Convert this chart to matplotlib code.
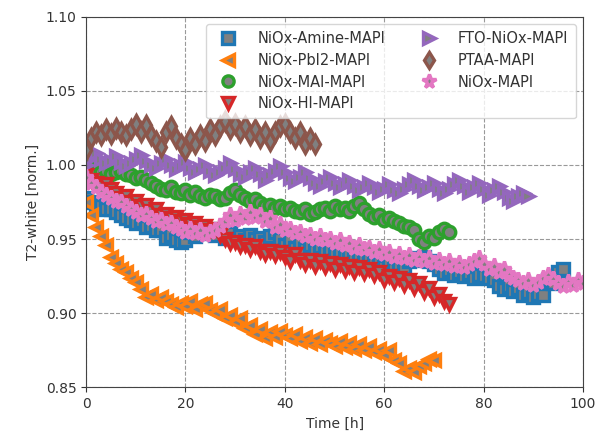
#!/usr/bin/env python3
"""
Normalised T2-white over time for the MAPI stacks.
"""

import matplotlib
matplotlib.use("Agg")
import matplotlib.pyplot as plt
import numpy as np


amine = [
    0.978, 0.975, 0.973, 0.972, 0.970, 0.970, 0.968, 0.966, 0.964, 0.963,
    0.961, 0.962, 0.958, 0.959, 0.956, 0.956, 0.951, 0.953, 0.949, 0.948,
    0.949, 0.955, 0.952, 0.956, 0.954, 0.957, 0.953, 0.956, 0.951, 0.954,
    0.950, 0.952, 0.949, 0.953, 0.950, 0.951, 0.948, 0.952, 0.955, 0.950,
    0.946, 0.949, 0.944, 0.947, 0.943, 0.946, 0.942, 0.945, 0.941, 0.943,
    0.940, 0.942, 0.939, 0.941, 0.937, 0.940, 0.936, 0.938, 0.935, 0.934,
    0.931, 0.934, 0.930, 0.933, 0.931, 0.935, 0.937, 0.936, 0.938, 0.935,
    0.933, 0.930, 0.927, 0.929, 0.926, 0.928, 0.925, 0.927, 0.924, 0.926,
    0.925, 0.924, 0.922, 0.918, 0.916, 0.918, 0.915, 0.917, 0.912, 0.914,
    0.911, 0.913, 0.912, 0.922, 0.920, 0.928, 0.930,
]
pbi2 = [
    0.975, 0.966, 0.958, 0.952, 0.946, 0.938, 0.934, 0.930, 0.928, 0.924,
    0.921, 0.916, 0.911, 0.913, 0.909, 0.911, 0.908, 0.906, 0.904, 0.907,
    0.905, 0.908, 0.903, 0.906, 0.907, 0.902, 0.900, 0.903, 0.897, 0.899,
    0.894, 0.897, 0.890, 0.892, 0.886, 0.889, 0.883, 0.887, 0.884, 0.888,
    0.885, 0.883, 0.886, 0.881, 0.884, 0.880, 0.883, 0.879, 0.882, 0.880,
    0.878, 0.881, 0.877, 0.880, 0.876, 0.879, 0.875, 0.878, 0.874, 0.876,
    0.872, 0.875, 0.868, 0.866, 0.861, 0.863, 0.860, 0.864, 0.866, 0.869,
    0.868,
]
mai = [
    0.998, 0.997, 0.996, 0.995, 0.996, 0.994, 0.995, 0.996, 0.994, 0.993,
    0.991, 0.992, 0.990, 0.988, 0.986, 0.984, 0.983, 0.985, 0.982, 0.981,
    0.983, 0.980, 0.982, 0.979, 0.978, 0.980, 0.979, 0.977, 0.978, 0.981,
    0.983, 0.980, 0.978, 0.976, 0.977, 0.974, 0.972, 0.973, 0.971, 0.972,
    0.970, 0.971, 0.969, 0.968, 0.970, 0.967, 0.968, 0.970, 0.971, 0.969,
    0.972, 0.970, 0.971, 0.969, 0.972, 0.974, 0.970, 0.967, 0.965, 0.966,
    0.963, 0.964, 0.962, 0.961, 0.959, 0.958, 0.956, 0.950, 0.948, 0.952,
    0.951, 0.955, 0.957, 0.955,
]
hi = [
    0.993, 0.990, 0.988, 0.986, 0.987, 0.984, 0.981, 0.978, 0.979, 0.975,
    0.976, 0.972, 0.973, 0.969, 0.970, 0.966, 0.967, 0.964, 0.965, 0.962,
    0.963, 0.960, 0.961, 0.958, 0.959, 0.956, 0.957, 0.953, 0.950, 0.947,
    0.948, 0.945, 0.946, 0.943, 0.945, 0.942, 0.940, 0.942, 0.939, 0.941,
    0.938, 0.935, 0.940, 0.936, 0.933, 0.936, 0.932, 0.935, 0.931, 0.934,
    0.930, 0.933, 0.929, 0.932, 0.928, 0.931, 0.927, 0.930, 0.926, 0.928,
    0.922, 0.925, 0.921, 0.924, 0.919, 0.922, 0.917, 0.920, 0.914, 0.917,
    0.911, 0.913, 0.908, 0.906,
]
fto = [
    1.000, 1.005, 1.008, 1.004, 1.001, 1.003, 1.006, 1.002, 0.999, 1.001,
    1.004, 1.007, 1.003, 1.000, 0.998, 1.001, 1.004, 1.000, 0.997, 0.999,
    1.002, 0.998, 0.995, 0.997, 1.000, 0.996, 0.993, 0.995, 0.998, 1.001,
    0.997, 0.994, 0.992, 0.995, 0.998, 0.994, 0.990, 0.993, 0.996, 0.999,
    0.995, 0.991, 0.989, 0.992, 0.995, 0.991, 0.988, 0.986, 0.989, 0.992,
    0.988, 0.985, 0.987, 0.990, 0.986, 0.983, 0.985, 0.988, 0.985, 0.982,
    0.984, 0.987, 0.983, 0.981, 0.984, 0.987, 0.990, 0.986, 0.983, 0.985,
    0.988, 0.984, 0.981, 0.984, 0.987, 0.990, 0.986, 0.982, 0.985, 0.988,
    0.984, 0.980, 0.983, 0.986, 0.982, 0.978, 0.976, 0.979, 0.981, 0.979,
]
ptaa = [
    1.010, 1.018, 1.022, 1.020, 1.024, 1.021, 1.025, 1.022, 1.020, 1.024,
    1.028, 1.022, 1.027, 1.020, 1.016, 1.012, 1.022, 1.026, 1.018, 1.014,
    1.010, 1.018, 1.014, 1.020, 1.016, 1.024, 1.020, 1.026, 1.030, 1.024,
    1.028, 1.022, 1.026, 1.020, 1.024, 1.018, 1.022, 1.016, 1.022, 1.026,
    1.028, 1.022, 1.018, 1.022, 1.014, 1.018, 1.014,
]
niox = [
    0.992, 0.988, 0.985, 0.982, 0.980, 0.978, 0.976, 0.975, 0.972, 0.970,
    0.968, 0.966, 0.967, 0.964, 0.962, 0.963, 0.960, 0.961, 0.958, 0.957,
    0.955, 0.957, 0.954, 0.956, 0.953, 0.955, 0.956, 0.959, 0.962, 0.966,
    0.963, 0.967, 0.964, 0.968, 0.965, 0.966, 0.962, 0.964, 0.958, 0.960,
    0.956, 0.957, 0.954, 0.955, 0.952, 0.953, 0.950, 0.952, 0.949, 0.950,
    0.947, 0.949, 0.946, 0.947, 0.944, 0.946, 0.943, 0.944, 0.941, 0.943,
    0.940, 0.941, 0.938, 0.940, 0.937, 0.939, 0.936, 0.938, 0.935, 0.937,
    0.934, 0.936, 0.933, 0.935, 0.932, 0.934, 0.931, 0.933, 0.935, 0.937,
    0.933, 0.930, 0.932, 0.928, 0.930, 0.926, 0.924, 0.922, 0.920, 0.922,
    0.919, 0.921, 0.924, 0.926, 0.923, 0.920, 0.918, 0.921, 0.919, 0.922,
    0.920,
]

LABELS = [
    "NiOx-Amine-MAPI", "NiOx-PbI2-MAPI", "NiOx-MAI-MAPI", "NiOx-HI-MAPI",
    "FTO-NiOx-MAPI", "PTAA-MAPI", "NiOx-MAPI",
]
SERIES = [amine, pbi2, mai, hi, fto, ptaa, niox]
MARKERS = ["s", "<", "o", "v", ">", "d", "*"]
COLORS = ["#1f77b4", "#ff7f0e", "#2ca02c", "#d62728", "#9467bd", "#8c564b", "#e377c2"]
SAMPLE_STEP_H = 1.0
TEXT_COLOR = "#333333"


def main() -> None:
    fig = plt.figure(figsize=(5.98, 4.33), dpi=100)
    ax = fig.add_axes([0.144, 0.106, 0.831, 0.855])

    for vals, label, marker, color in zip(SERIES, LABELS, MARKERS, COLORS):
        t = np.arange(len(vals)) * SAMPLE_STEP_H
        ms = 11 if marker == "*" else 9
        ax.plot(t, vals, linestyle="none", marker=marker, markersize=ms,
                markerfacecolor="grey", markeredgecolor=color,
                markeredgewidth=2.4, label=label)

    ax.set_xlim(0, 100)
    ax.set_ylim(0.85, 1.10)
    ax.set_xticks([0, 20, 40, 60, 80, 100])
    ax.set_yticks([0.85, 0.90, 0.95, 1.00, 1.05, 1.10])
    ax.yaxis.set_major_formatter(plt.FormatStrFormatter("%.2f"))
    ax.grid(True, linestyle="--", color="#999999", linewidth=0.8)
    ax.tick_params(labelsize=10, colors=TEXT_COLOR)
    for sp in ax.spines.values():
        sp.set_color("#444444")
    ax.set_xlabel("Time [h]", fontsize=10, color=TEXT_COLOR)
    ax.set_ylabel("T2-white [norm.]", fontsize=10, color=TEXT_COLOR)
    leg = ax.legend(loc="upper right", ncol=2, fontsize=10.5, columnspacing=2.0,
                    handletextpad=1.0, labelspacing=0.45, borderpad=0.5,
                    markerscale=0.9)
    for txt in leg.get_texts():
        txt.set_color(TEXT_COLOR)

    fig.savefig("out.png", dpi=100)
    plt.close(fig)


if __name__ == "__main__":
    main()
